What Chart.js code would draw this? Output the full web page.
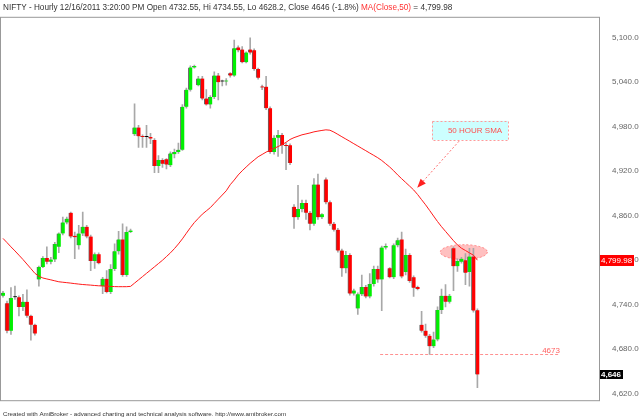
<!DOCTYPE html>
<html>
<head>
<meta charset="utf-8">
<script src="https://cdn.jsdelivr.net/npm/chart.js@4.4.1/dist/chart.umd.min.js"></script>
<style>
  html, body { margin: 0; padding: 0; background: #fff; }
  #wrap { width: 640px; height: 418px; position: relative; }
</style>
</head>
<body>
<div id="wrap"><canvas id="nifty"></canvas></div>
<script>
/*////////////////////////////////
///       NIFTY hourly data     ///
////////////////////////////////*/

const opens = [4752, 4742, 4705, 4750, 4750, 4737, 4744, 4725, 4713,
  4774, 4791, 4803, 4798, 4801, 4818, 4836, 4851,
  4864, 4833, 4820, 4836, 4845, 4832, 4799, 4808,
  4765, 4775, 4757, 4788, 4812, 4828, 4780, 4838,
  4970, 4979, 4967, 4966, 4966, 4962, 4927, 4935,
  4936, 4928, 4943, 4946, 4949, 5007, 5030, 5060,
  5036, 5045, 5018, 5010, 5020, 5049, 5041, 5041,
  5052, 5049, 5087, 5084, 5067, 5084, 5083, 5058,
  5034, 5034, 5005, 4946, 4965, 4969, 4955, 4955,
  4872, 4858, 4869, 4877, 4864, 4849, 4902, 4858,
  4909, 4878, 4849, 4841, 4813, 4789, 4807, 4755,
  4735, 4754, 4764, 4751, 4768, 4788, 4774, 4817,
  4789, 4777, 4820, 4828, 4784, 4807, 4777, 4764,
  4713, 4705, 4698, 4684, 4693, 4733, 4752, 4744,
  4816, 4792, 4798, 4800, 4784, 4805, 4732.55];

const highs = [4758, 4745, 4763, 4765, 4752, 4754, 4760, 4726, 4714,
  4792, 4805, 4818, 4804, 4824, 4837, 4858, 4858,
  4865, 4838, 4847, 4865, 4847, 4834, 4810, 4810,
  4777, 4786, 4794, 4822, 4839, 4849, 4845, 4842,
  5011, 4982, 4969, 4982, 4971, 4964, 4941, 4937,
  4937, 4946, 4950, 4958, 5010, 5032, 5062, 5063,
  5048, 5048, 5030, 5022, 5054, 5052, 5043, 5045,
  5053, 5097, 5089, 5088, 5081, 5100, 5085, 5059,
  5036, 5048, 5007, 4968, 4975, 4971, 4958, 4957,
  4875, 4901, 4881, 4881, 4866, 4910, 4916, 4863,
  4911, 4880, 4851, 4843, 4815, 4812, 4809, 4761,
  4756, 4780, 4766, 4782, 4792, 4792, 4819, 4822,
  4790, 4822, 4830, 4838, 4815, 4809, 4779, 4765,
  4731, 4714, 4700, 4703, 4737, 4761, 4767, 4754,
  4818, 4802, 4804, 4809, 4816, 4816, 4734.55];

const lows = [4750, 4702, 4700, 4747, 4725, 4732, 4723, 4692, 4699,
  4765, 4790, 4795, 4795, 4798, 4810, 4834, 4849,
  4830, 4802, 4815, 4833, 4830, 4786, 4789, 4795,
  4755, 4756, 4755, 4786, 4808, 4778, 4778, 4837,
  4968, 4952, 4952, 4952, 4957, 4918, 4918, 4925,
  4923, 4926, 4938, 4944, 4948, 5005, 5028, 5059,
  5035, 5016, 5009, 5005, 5018, 5016, 5035, 5036,
  5047, 5048, 5081, 5066, 5066, 5078, 5056, 5044,
  5030, 5003, 4944, 4943, 4940, 4944, 4922, 4929,
  4843, 4855, 4865, 4855, 4841, 4847, 4855, 4856,
  4876, 4847, 4839, 4811, 4778, 4783, 4753, 4753,
  4727, 4752, 4749, 4749, 4765, 4770, 4732, 4815,
  4776, 4775, 4818, 4776, 4780, 4770, 4751, 4760,
  4703, 4696, 4673, 4682, 4691, 4728, 4737, 4742,
  4759, 4785, 4796, 4767, 4765, 4730, 4628.2];

const closes = [4756, 4705, 4749, 4750, 4737, 4744, 4725, 4713, 4701,
  4791, 4803, 4798, 4801, 4822, 4836, 4851, 4856,
  4832, 4831, 4836, 4845, 4832, 4799, 4808, 4796,
  4775, 4757, 4788, 4812, 4828, 4780, 4838, 4840,
  4979, 4967, 4966, 4966, 4964, 4927, 4935, 4930,
  4929, 4944, 4946, 4949, 5007, 5030, 5060, 5062,
  5045, 5018, 5010, 5020, 5049, 5040, 5041, 5042,
  5049, 5086, 5083, 5067, 5080, 5080, 5058, 5046,
  5033, 5005, 4946, 4965, 4969, 4955, 4954, 4931,
  4858, 4869, 4877, 4864, 4849, 4902, 4858, 4862,
  4878, 4849, 4841, 4813, 4789, 4807, 4755, 4759,
  4754, 4764, 4751, 4768, 4788, 4774, 4817, 4819,
  4777, 4820, 4827, 4778, 4807, 4772, 4763, 4761,
  4705, 4698, 4684, 4693, 4733, 4752, 4744, 4752,
  4792, 4799, 4802, 4783, 4805, 4732, 4646];

// MA(Close,50) as drawn
const sma50 = [4829.4, 4823.8, 4818.0, 4812.5, 4806.8, 4801.0, 4794.8, 4788.6, 4782.3, 4778.5,
  4776.0, 4774.7, 4773.5, 4772.2, 4770.9, 4770.3, 4769.7, 4769.1, 4768.4, 4767.8,
  4767.2, 4766.8, 4766.4, 4765.9, 4765.5, 4765.3, 4764.9, 4764.7, 4764.4, 4764.3,
  4764.3, 4764.3, 4764.7, 4769.1, 4773.5, 4777.9, 4782.3, 4786.7, 4791.1, 4795.5,
  4799.9, 4804.9, 4809.9, 4815.6, 4821.9, 4828.8, 4836.4, 4843.9, 4850.8, 4856.5,
  4862.1, 4866.5, 4870.9, 4876.6, 4882.3, 4887.9, 4893.6, 4901.8, 4908.1, 4915.0,
  4920.6, 4925.7, 4930.7, 4935.1, 4939.5, 4942.6, 4945.8, 4948.3, 4950.8, 4953.3,
  4955.8, 4959.0, 4962.8, 4965.3, 4967.2, 4969.1, 4970.3, 4971.6, 4973.1, 4974.1,
  4975.0, 4975.8, 4975.3, 4972.8, 4969.7, 4966.5, 4963.4, 4960.3, 4957.1, 4954.0,
  4950.8, 4947.7, 4944.5, 4941.4, 4938.2, 4934.5, 4930.1, 4925.7, 4920.6, 4915.0,
  4909.9, 4904.9, 4899.9, 4894.8, 4888.6, 4881.6, 4874.7, 4867.2, 4859.6, 4852.1,
  4845.2, 4838.9, 4832.6, 4826.3, 4820.6, 4816.2, 4813.1, 4809.9, 4806.8, 4799.98];

const yTicks = [4620, 4680, 4740, 4800, 4860, 4920, 4980, 5040, 5100];
const supportLevel = 4673;

// 120 bars plus the empty space AmiBroker leaves on the right
const totalSlots = 150;
const labels = [];
for (let i = 0; i < totalSlots; i++) {
  labels.push('bar ' + (i + 1));
}

const FONT = 'Liberation Sans, Arial, sans-serif';

function fmt(v, d) {
  return v.toLocaleString('en-US', { minimumFractionDigits: d, maximumFractionDigits: d });
}

/*////////////////////////////////
///        Decorations          ///
////////////////////////////////*/

const amiDecor = {
  id: 'amiDecor',
  beforeDatasetsDraw(chart) {
    const { ctx, chartArea: a, scales: { x, y } } = chart;
    ctx.save();

    // support line 4673
    let ys = Math.round(y.getPixelForValue(supportLevel)) + 0.5;
    let xs0 = x.getPixelForValue(94.6);
    let xs1 = x.getPixelForValue(139.7);
    ctx.strokeStyle = '#ff9090';
    ctx.lineWidth = 1;
    ctx.setLineDash([3, 2]);
    ctx.beginPath();
    ctx.moveTo(xs0, ys);
    ctx.lineTo(xs1, ys);
    ctx.stroke();
    ctx.setLineDash([]);
    ctx.fillStyle = '#ff6060';
    ctx.font = '8px ' + FONT;
    ctx.textAlign = 'right';
    ctx.textBaseline = 'alphabetic';
    ctx.fillText(String(supportLevel), xs1, ys - 2);

    // ellipse round the MA touch
    let cx = x.getPixelForValue(115.6);
    let cy = y.getPixelForValue(4811);
    let rx = x.getPixelForValue(115.6 + 5.9) - cx;
    let ry = y.getPixelForValue(4801) - cy;
    ctx.fillStyle = 'rgba(255, 150, 150, 0.6)';
    ctx.strokeStyle = 'rgba(255, 110, 110, 0.8)';
    ctx.setLineDash([2, 2]);
    ctx.beginPath();
    ctx.ellipse(cx, cy, rx, ry, 0, 0, Math.PI * 2);
    ctx.fill();
    ctx.stroke();
    ctx.restore();
  },
  afterDraw(chart) {
    const { ctx, chartArea: a, scales: { x, y } } = chart;
    ctx.save();

    // plot frame
    ctx.strokeStyle = '#999';
    ctx.lineWidth = 1;
    ctx.strokeRect(a.left - 0.5, a.top - 0.5, a.right - a.left + 1, a.bottom - a.top + 1);

    // title
    ctx.font = '8.2px ' + FONT;
    ctx.textAlign = 'left';
    ctx.textBaseline = 'alphabetic';
    const last = closes.length - 1;
    const prev = closes[last - 1];
    const chg = (closes[last] - prev) / prev * 100;
    const parts = [
      ['NIFTY - Hourly 12/16/2011 3:20:00 PM Open ' + opens[last] + ', Hi ' + highs[last] +
       ', Lo ' + lows[last] + ', Close ' + closes[last] + ' (' + chg.toFixed(1) + '%) ', '#333'],
      ['MA(Close,50)', '#ff3030'],
      [' = ' + fmt(sma50[last], 2), '#333']
    ];
    let tx = 3;
    parts.forEach(p => {
      ctx.fillStyle = p[1];
      ctx.fillText(p[0], tx, 9.5);
      tx += ctx.measureText(p[0]).width;
    });

    // footer
    ctx.font = '6.2px ' + FONT;
    ctx.fillStyle = '#333';
    ctx.fillText('Created with AmiBroker - advanced charting and technical analysis software. http://www.amibroker.com', 3, 415.5);

    // note box
    let bx0 = x.getPixelForValue(107.6), bx1 = x.getPixelForValue(126.7);
    let by0 = y.getPixelForValue(4988), by1 = y.getPixelForValue(4962);
    ctx.fillStyle = '#ccffff';
    ctx.fillRect(bx0, by0, bx1 - bx0, by1 - by0);
    ctx.strokeStyle = '#ff9a9a';
    ctx.setLineDash([2, 2]);
    ctx.strokeRect(Math.round(bx0) + 0.5, Math.round(by0) + 0.5, Math.round(bx1 - bx0), Math.round(by1 - by0));
    ctx.fillStyle = '#ff5050';
    ctx.font = '8px ' + FONT;
    ctx.textAlign = 'center';
    ctx.textBaseline = 'middle';
    ctx.fillText('50 HOUR SMA', (bx0 + bx1) / 2 + 5, (by0 + by1) / 2);

    // dotted arrow
    let ax0 = x.getPixelForValue(114.4), ay0 = y.getPixelForValue(4960.5);
    let ax1 = x.getPixelForValue(103.9), ay1 = y.getPixelForValue(4897.6);
    let ang = Math.atan2(ay1 - ay0, ax1 - ax0);
    ctx.strokeStyle = '#ff7070';
    ctx.beginPath();
    ctx.moveTo(ax0, ay0);
    ctx.lineTo(ax1 - 5 * Math.cos(ang), ay1 - 5 * Math.sin(ang));
    ctx.stroke();
    ctx.setLineDash([]);
    ctx.fillStyle = '#ff2020';
    ctx.beginPath();
    ctx.moveTo(ax1, ay1);
    ctx.lineTo(ax1 - 9 * Math.cos(ang) + 3.5 * Math.sin(ang), ay1 - 9 * Math.sin(ang) - 3.5 * Math.cos(ang));
    ctx.lineTo(ax1 - 9 * Math.cos(ang) - 3.5 * Math.sin(ang), ay1 - 9 * Math.sin(ang) + 3.5 * Math.cos(ang));
    ctx.closePath();
    ctx.fill();

    // last value tags on the axis
    ctx.textAlign = 'left';
    let my = Math.round(y.getPixelForValue(sma50[last]));
    ctx.fillStyle = '#ff0000';
    ctx.fillRect(a.right + 1, my - 5, 34, 11);
    ctx.fillStyle = '#fff';
    ctx.font = '8px ' + FONT;
    ctx.fillText(fmt(sma50[last], 2), a.right + 2, my + 0.5);

    let cyy = Math.round(y.getPixelForValue(closes[last]));
    ctx.fillStyle = '#000';
    ctx.fillRect(a.right + 1, cyy - 4, 23, 9);
    ctx.fillStyle = '#fff';
    ctx.font = 'bold 8px ' + FONT;
    ctx.fillText(fmt(Math.round(closes[last]), 0), a.right + 2, cyy + 0.5);
    ctx.restore();
  }
};

/*////////////////////////////////
///        Candle chart         ///
////////////////////////////////*/

const wicks = lows.map((l, i) => [l, highs[i]]);
const bodies = opens.map((o, i) => [o, closes[i]]);

function bodyColor(c) {
  const i = c.dataIndex;
  if (closes[i] > opens[i]) return '#00f000';
  if (closes[i] < opens[i]) return '#ff0000';
  return '#000000';
}

let ctx = document.getElementById('nifty').getContext('2d');
let niftyChart = new Chart(ctx, {
  type: 'bar',
  data: {
    labels: labels,
    datasets: [{
      type: 'line',
      label: 'MA(Close,50)',
      data: sma50,
      borderColor: '#ff1a1a',
      borderWidth: 1,
      pointRadius: 0,
      tension: 0,
      order: 1
    }, {
      label: 'Body',
      data: bodies,
      backgroundColor: bodyColor,
      borderColor: '#666',
      borderWidth: { left: 1, right: 0, top: 0, bottom: 0 },
      borderSkipped: false,
      barThickness: 4,
      minBarLength: 1,
      grouped: false,
      order: 2
    }, {
      label: 'Wick',
      data: wicks,
      backgroundColor: '#a8a8a8',
      barThickness: 1,
      grouped: false,
      order: 3
    }]
  },
  options: {
    responsive: true,
    maintainAspectRatio: false,
    animation: false,
    layout: {
      padding: { left: 1, top: 1, right: 0, bottom: 7 }
    },
    scales: {
      x: {
        type: 'category',
        display: false,
        offset: true
      },
      y: {
        position: 'right',
        min: 4611.2,
        max: 5126.9,
        afterBuildTicks: (s) => {
          s.ticks = yTicks.map(v => ({ value: v }));
        },
        afterFit: (s) => {
          s.width = 41;
        },
        grid: { display: false, drawTicks: false },
        border: { display: false },
        ticks: {
          padding: 13,
          color: '#666',
          font: { family: FONT, size: 8 },
          callback: (v) => fmt(v, 1)
        }
      }
    },
    plugins: {
      legend: { display: false },
      tooltip: { enabled: false }
    }
  },
  plugins: [amiDecor]
});
</script>
</body>
</html>
